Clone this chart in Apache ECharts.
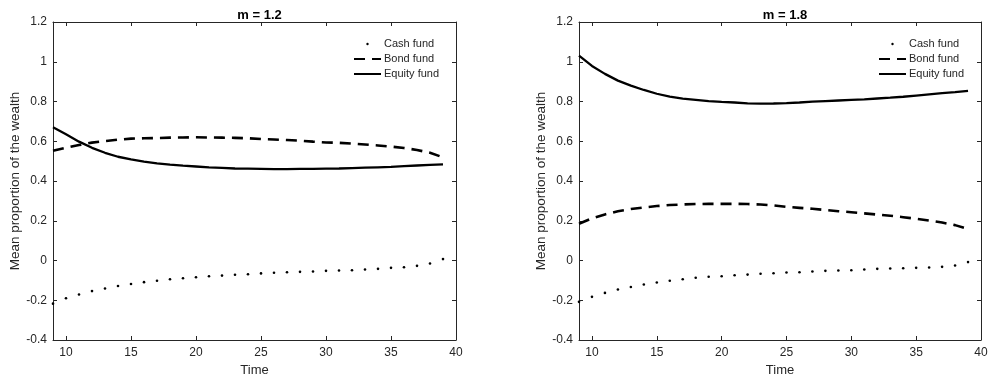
<!DOCTYPE html>
<html>
<head>
<meta charset="utf-8">
<script src="https://cdn.jsdelivr.net/npm/echarts@6/dist/echarts.min.js"></script>
<style>html,body{margin:0;padding:0;background:#fff}#c{width:989px;height:377px}</style>
</head>
<body>
<div id="c"></div>
<script>
var times = [9,10,11,12,13,14,15,16,17,18,19,20,21,22,23,24,25,26,27,28,29,30,31,32,33,34,35,36,37,38,39];
var xTicks = [10,15,20,25,30,35,40];
var titles = ['m = 1.2', 'm = 1.8'];
var seriesNames = ['Cash fund', 'Bond fund', 'Equity fund'];

var cash12 = [-0.217,-0.19,-0.171,-0.154,-0.141,-0.128,-0.118,-0.109,-0.102,-0.094,-0.089,-0.084,-0.079,-0.076,-0.072,-0.069,-0.065,-0.062,-0.059,-0.057,-0.055,-0.052,-0.050,-0.049,-0.045,-0.042,-0.037,-0.034,-0.027,-0.015,0.007];
var bond12 = [0.552,0.567,0.581,0.593,0.601,0.608,0.613,0.615,0.616,0.618,0.619,0.62,0.619,0.618,0.617,0.615,0.611,0.609,0.606,0.603,0.598,0.594,0.592,0.588,0.584,0.579,0.573,0.566,0.556,0.542,0.519];
var equity12 = [0.670,0.635,0.598,0.567,0.542,0.522,0.509,0.498,0.489,0.482,0.477,0.473,0.469,0.466,0.463,0.462,0.461,0.460,0.460,0.461,0.461,0.462,0.463,0.465,0.467,0.469,0.471,0.475,0.478,0.481,0.484];

var cash18 = [-0.208,-0.183,-0.163,-0.146,-0.133,-0.121,-0.111,-0.102,-0.094,-0.087,-0.082,-0.079,-0.074,-0.071,-0.067,-0.064,-0.060,-0.059,-0.055,-0.052,-0.050,-0.049,-0.045,-0.042,-0.040,-0.039,-0.037,-0.035,-0.032,-0.025,-0.008];
var bond18 = [0.185,0.212,0.232,0.248,0.259,0.267,0.274,0.279,0.282,0.284,0.285,0.285,0.285,0.284,0.282,0.277,0.270,0.265,0.260,0.254,0.248,0.243,0.237,0.231,0.225,0.218,0.210,0.201,0.191,0.178,0.158];
var equity18 = [1.031,0.979,0.939,0.905,0.880,0.858,0.839,0.824,0.814,0.808,0.802,0.798,0.795,0.791,0.789,0.790,0.792,0.795,0.799,0.802,0.805,0.808,0.811,0.815,0.819,0.824,0.830,0.836,0.842,0.847,0.853];

var panels = [[cash12, bond12, equity12], [cash18, bond18, equity18]];

var AX = '#262626';
var FONT = '"Liberation Sans", Arial, sans-serif';
var grids = [
  {left: 53, top: 22, width: 403, height: 318, outerBoundsMode: 'none', containLabel: false},
  {left: 579, top: 22, width: 402, height: 318, outerBoundsMode: 'none', containLabel: false}
];

function pairs(vals) { return times.map(function (t, i) { return [t, vals[i]]; }); }

var xAxes = [], yAxes = [], series = [], titleOpts = [], legends = [];
grids.forEach(function (g, k) {
  var base = {
    type: 'value', gridIndex: k, min: 9, max: 40,
    axisLine: {show: true, onZero: false, lineStyle: {color: AX, width: 1}},
    axisTick: {show: true, inside: true, length: 4, customValues: xTicks, lineStyle: {color: AX}},
    splitLine: {show: false}
  };
  xAxes.push(Object.assign({}, base, {
    position: 'bottom',
    axisLabel: {show: true, customValues: xTicks, color: AX, fontSize: 12, fontFamily: FONT, margin: 7},
    name: 'Time', nameLocation: 'middle', nameGap: 24,
    nameTextStyle: {color: AX, fontSize: 13, fontFamily: FONT}
  }));
  xAxes.push(Object.assign({}, base, {position: 'top', axisLabel: {show: false}}));
  var ybase = {
    type: 'value', gridIndex: k, min: -0.4, max: 1.2, interval: 0.2,
    axisLine: {show: true, onZero: false, lineStyle: {color: AX, width: 1}},
    axisTick: {show: true, inside: true, length: 4, lineStyle: {color: AX}},
    splitLine: {show: false}
  };
  yAxes.push(Object.assign({}, ybase, {
    position: 'left',
    axisLabel: {show: true, color: AX, fontSize: 12, fontFamily: FONT, margin: 6},
    name: 'Mean proportion of the wealth', nameLocation: 'middle', nameGap: 31,
    nameTextStyle: {color: AX, fontSize: 13.5, fontFamily: FONT}
  }));
  yAxes.push(Object.assign({}, ybase, {position: 'right', axisLabel: {show: false}}));

  var vals = panels[k];
  series.push({
    name: seriesNames[0], type: 'line', xAxisIndex: 2 * k, yAxisIndex: 2 * k,
    data: pairs(vals[0]), symbol: 'circle', symbolSize: 2.6, showSymbol: true,
    itemStyle: {color: '#000'}, lineStyle: {opacity: 0, color: '#000'},
    silent: true, animation: false
  });
  series.push({
    name: seriesNames[1], type: 'line', xAxisIndex: 2 * k, yAxisIndex: 2 * k,
    data: pairs(vals[1]), showSymbol: false, symbol: 'none',
    itemStyle: {color: '#000'}, lineStyle: {color: '#000', width: 2.6, type: [11, 7]},
    silent: true, animation: false
  });
  series.push({
    name: seriesNames[2], type: 'line', xAxisIndex: 2 * k, yAxisIndex: 2 * k,
    data: pairs(vals[2]), showSymbol: false, symbol: 'none',
    itemStyle: {color: '#000'}, lineStyle: {color: '#000', width: 2.3},
    silent: true, animation: false
  });

  titleOpts.push({
    text: titles[k], left: g.left + g.width / 2, top: 4, textAlign: 'center',
    textStyle: {color: '#000', fontSize: 13, fontWeight: 'bold', fontFamily: FONT}
  });
  legends.push({
    orient: 'vertical', left: k === 0 ? 353 : 878, top: 38.5, itemWidth: 27, itemHeight: 3,
    itemGap: 4, selectedMode: false, padding: 0,
    textStyle: {color: AX, fontSize: 11, fontFamily: FONT, padding: [0, 0, 0, -2]},
    data: [
      {name: seriesNames[0], lineStyle: {opacity: 0}},
      {name: seriesNames[1], itemStyle: {opacity: 0}},
      {name: seriesNames[2], itemStyle: {opacity: 0}}
    ]
  });
});

var chart = echarts.init(document.getElementById('c'), null, {renderer: 'canvas'});
chart.setOption({
  backgroundColor: '#fff',
  animation: false,
  title: titleOpts,
  legend: legends,
  grid: grids,
  xAxis: xAxes,
  yAxis: yAxes,
  series: series
});
</script>
</body>
</html>
